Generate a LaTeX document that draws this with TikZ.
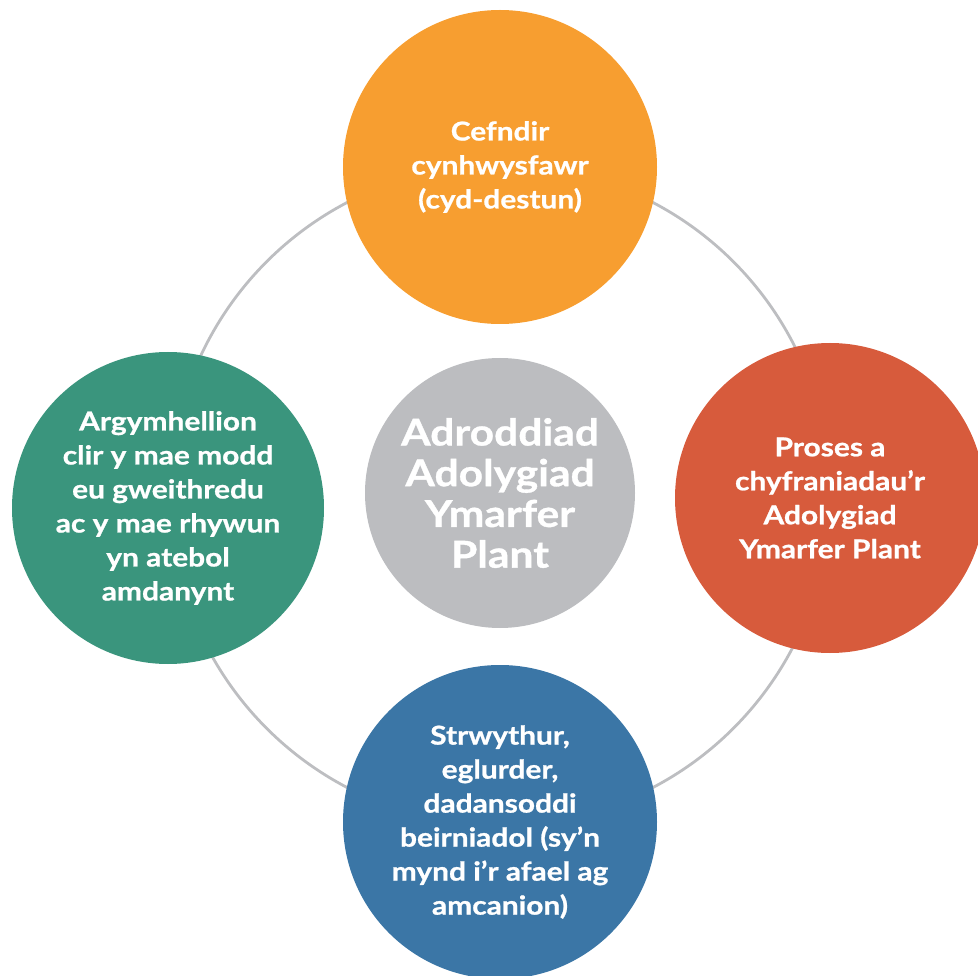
\documentclass[tikz,border=0pt]{standalone}
\usepackage{fontspec}
\setmainfont{Lato}[FakeStretch=1.15, BoldFeatures={FakeBold=0.9}]
\usepackage{tikz}
\usetikzlibrary{shapes}
\pgfdeclarelayer{edgelayer}
\pgfdeclarelayer{nodelayer}
\pgfsetlayers{edgelayer,nodelayer,main}
\tikzstyle{none}=[inner sep=0pt]
\tikzstyle{blob}=[circle, inner sep=0pt, text=white, align=center, font=\bfseries\fontsize{26}{34}\selectfont]
\tikzstyle{ring}=[draw=ringgray, line width=2.8pt]
\definecolor{ringgray}{RGB}{189,190,193}
\definecolor{hubgray}{RGB}{188,189,192}
\definecolor{orange}{RGB}{247,158,48}
\definecolor{rust}{RGB}{215,91,60}
\definecolor{teal}{RGB}{58,149,125}
\definecolor{steel}{RGB}{59,118,166}

\begin{document}
\begin{tikzpicture}[x=1pt, y=-1pt]
	\useasboundingbox (0, 0) rectangle (978, 976);
	\clip (0, 0) rectangle (978, 976);
	\begin{pgfonlayer}{nodelayer}
		\node [style=blob, fill=hubgray, minimum size=270pt, font=\bfseries\fontsize{37}{40.7}\selectfont] (0) at (500, 493) {Adroddiad\\Adolygiad\\Ymarfer\\Plant};
		\node [style=blob, fill=orange, minimum size=314pt] (1) at (500, 167) {Cefndir\\cynhwysfawr\\(cyd-destun)};
		\node [style=blob, fill=rust, minimum size=310pt] (2) at (830, 498) {Proses a\\chyfraniadau’r\\Adolygiad\\Ymarfer Plant};
		\node [style=blob, fill=steel, minimum size=314pt] (3) at (500, 822) {Strwythur,\\eglurder,\\dadansoddi\\beirniadol (sy’n\\mynd i’r afael ag\\amcanion)};
		\node [style=blob, fill=teal, minimum size=312pt] (4) at (168, 508) {Argymhellion\\clir y mae modd\\eu gweithredu\\ac y mae rhywun\\yn atebol\\amdanynt};
		\node [style=none] (5) at (500, 495) {};
	\end{pgfonlayer}
	\begin{pgfonlayer}{edgelayer}
		\draw [style=ring] (5.center) circle (330);
	\end{pgfonlayer}
\end{tikzpicture}
\end{document}
